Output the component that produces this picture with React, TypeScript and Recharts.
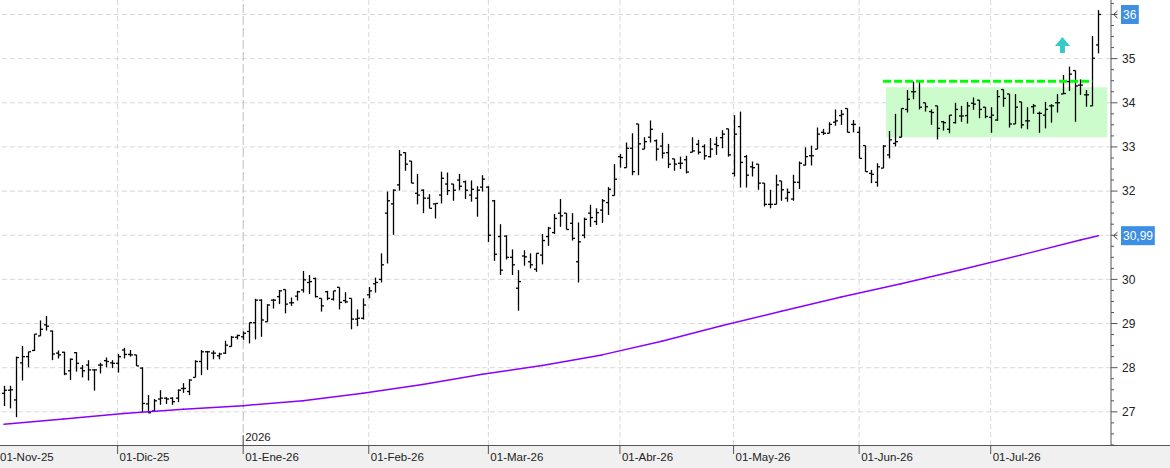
import React from "react";
import {
  ComposedChart,
  Bar,
  XAxis,
  YAxis,
  ReferenceLine,
  ReferenceArea,
  ReferenceDot,
} from "recharts";

// precios diarios (apertura, máximo, mínimo, cierre)
const opens = [
  27.42, 27.49, 27.27, 28.11, 28.25, 28.39, 28.72, 28.97, 28.83, 28.33,
  28.35, 27.93, 28.34, 27.99, 28.06, 27.95, 28.06, 28.16, 28.11, 28.1,
  28.4, 28.3, 28.29, 27.99, 27.18, 27.02, 27.29, 27.31, 27.31, 27.31,
  27.53, 27.46, 27.78, 28.14, 28.36, 28.33, 28.27, 28.33, 28.48, 28.69,
  28.7, 28.82, 29.02, 29.53, 29.04, 29.53, 29.61, 29.77, 29.47, 29.62,
  29.76, 29.93, 30.02, 29.57, 29.72, 29.55, 29.82, 29.52, 29.57, 29.1,
  29.12, 29.65, 29.9, 30.0, 31.5, 31.71, 32.14, 32.87, 32.68, 31.95,
  32.02, 31.84, 31.71, 31.91, 32.16, 32.16, 32.25, 32.21, 31.91, 31.84,
  32.09, 32.09, 31.78, 30.97, 30.98, 30.5, 29.8, 30.53, 30.4, 30.23,
  30.55, 30.97, 31.06, 31.5, 31.5, 31.27, 30.4, 31.0, 31.5, 31.31,
  31.57, 31.74, 31.9, 32.78, 32.53, 32.97, 33.52, 32.95, 33.22, 33.14,
  33.02, 32.87, 32.73, 32.63, 32.71, 32.88, 33.06, 33.01, 32.78, 33.06,
  33.21, 33.41, 32.4, 33.46, 32.78, 32.55, 32.61, 32.18, 31.7, 31.7,
  32.23, 31.84, 31.82, 32.2, 32.59, 32.8, 32.95, 33.33, 33.31, 33.56,
  33.71, 33.87, 33.51, 33.33, 33.03, 32.4, 32.2, 32.52, 32.82, 33.08,
  33.22, 33.85, 34.25, 34.5, 34.0, 33.8, 33.93, 33.57, 33.4, 33.55,
  33.7, 33.71, 33.99, 34.06, 33.9, 33.67, 33.61, 34.3, 34.2, 33.52,
  34.02, 33.59, 33.91, 33.76, 33.72, 33.93, 34.0, 34.2, 34.48, 34.73,
  34.4, 34.18, 33.93, 35.31,
];
const highs = [
  27.59, 27.59, 28.25, 28.49, 28.36, 28.76, 29.07, 29.17, 28.84, 28.39,
  28.36, 28.21, 28.35, 28.06, 28.17, 27.96, 28.11, 28.23, 28.17, 28.31,
  28.45, 28.4, 28.29, 28.01, 27.38, 27.29, 27.49, 27.33, 27.33, 27.51,
  27.65, 27.74, 28.17, 28.4, 28.38, 28.39, 28.34, 28.61, 28.72, 28.75,
  28.82, 29.02, 29.56, 29.55, 29.44, 29.56, 29.76, 29.77, 29.59, 29.74,
  30.19, 30.1, 30.04, 29.57, 29.74, 29.74, 29.82, 29.71, 29.57, 29.32,
  29.57, 29.83, 30.04, 30.59, 31.99, 32.04, 32.93, 32.88, 32.68, 32.39,
  32.04, 31.93, 31.72, 32.44, 32.42, 32.16, 32.39, 32.24, 32.24, 32.11,
  32.36, 32.11, 31.8, 31.25, 31.0, 30.68, 30.21, 30.66, 30.59, 30.59,
  31.03, 31.19, 31.48, 31.82, 31.5, 31.5, 31.29, 31.4, 31.69, 31.61,
  31.82, 32.09, 32.61, 32.84, 33.1, 33.31, 33.52, 33.22, 33.6, 33.17,
  33.32, 33.07, 32.73, 32.78, 32.8, 33.22, 33.16, 33.06, 33.2, 33.23,
  33.38, 33.41, 33.72, 33.8, 32.82, 32.67, 32.61, 32.18, 32.03, 32.37,
  32.23, 32.06, 32.37, 32.67, 32.99, 33.03, 33.44, 33.41, 33.56, 33.85,
  33.84, 33.87, 33.61, 33.46, 33.03, 32.48, 32.63, 33.04, 33.36, 33.75,
  33.87, 34.29, 34.48, 34.5, 34.0, 33.85, 33.93, 33.59, 33.72, 34.0,
  33.93, 34.02, 34.12, 34.06, 33.9, 33.9, 34.29, 34.3, 34.2, 34.2,
  34.02, 33.9, 33.97, 33.8, 34.02, 33.97, 34.2, 34.63, 34.82, 34.73,
  34.53, 34.29, 35.51, 36.1,
];
const lows = [
  27.13, 27.08, 26.88, 27.71, 28.01, 28.38, 28.72, 28.84, 28.17, 28.21,
  27.83, 27.72, 27.91, 27.78, 27.71, 27.48, 27.87, 28.01, 27.99, 27.89,
  28.21, 28.25, 28.04, 26.99, 26.97, 27.0, 27.16, 27.18, 27.16, 27.22,
  27.43, 27.38, 27.78, 27.83, 27.95, 28.19, 28.19, 28.31, 28.48, 28.64,
  28.63, 28.55, 28.64, 28.7, 29.04, 29.34, 29.44, 29.23, 29.4, 29.52,
  29.7, 29.67, 29.59, 29.27, 29.53, 29.52, 29.32, 29.46, 28.87, 28.94,
  29.09, 29.57, 29.7, 29.93, 30.36, 31.01, 32.01, 32.46, 32.18, 31.7,
  31.5, 31.61, 31.38, 31.72, 31.91, 31.78, 32.02, 31.82, 31.76, 31.42,
  31.99, 30.85, 30.42, 30.1, 30.45, 30.1, 29.29, 30.31, 30.25, 30.17,
  30.34, 30.76, 31.03, 31.19, 31.13, 30.88, 29.93, 30.93, 31.19, 31.23,
  31.28, 31.46, 31.9, 32.53, 32.53, 32.36, 32.36, 32.95, 33.1, 32.69,
  32.74, 32.52, 32.46, 32.5, 32.4, 32.88, 32.83, 32.71, 32.76, 32.82,
  32.97, 32.78, 32.33, 32.08, 32.08, 32.33, 32.03, 31.65, 31.61, 31.7,
  31.78, 31.76, 31.78, 32.05, 32.58, 32.58, 32.95, 33.27, 33.31, 33.48,
  33.5, 33.33, 33.33, 32.74, 32.44, 32.18, 32.1, 32.52, 32.74, 33.01,
  33.22, 33.78, 34.08, 33.85, 33.8, 33.5, 33.17, 33.37, 33.31, 33.53,
  33.57, 33.53, 33.84, 33.65, 33.65, 33.32, 33.59, 33.91, 33.44, 33.52,
  33.42, 33.4, 33.75, 33.32, 33.42, 33.55, 33.78, 34.2, 34.27, 33.57,
  34.18, 33.91, 33.93, 35.12,
];
const closes = [
  27.49, 27.5, 28.23, 28.25, 28.36, 28.76, 28.87, 28.94, 28.31, 28.29,
  27.86, 28.19, 28.1, 27.93, 27.95, 27.95, 28.06, 28.14, 28.1, 28.25,
  28.3, 28.29, 28.04, 27.19, 26.98, 27.25, 27.31, 27.29, 27.23, 27.49,
  27.53, 27.72, 28.14, 28.36, 28.36, 28.33, 28.31, 28.51, 28.69, 28.73,
  28.78, 29.02, 29.53, 29.08, 29.42, 29.53, 29.74, 29.44, 29.47, 29.72,
  29.99, 29.95, 29.61, 29.4, 29.57, 29.74, 29.48, 29.49, 29.1, 29.12,
  29.42, 29.74, 29.93, 30.33, 31.78, 32.02, 32.82, 32.61, 32.18, 31.91,
  31.84, 31.61, 31.72, 32.29, 32.01, 32.02, 32.11, 32.02, 32.04, 32.02,
  32.27, 31.0, 30.57, 30.21, 30.5, 30.33, 29.95, 30.51, 30.33, 30.59,
  30.88, 31.16, 31.38, 31.44, 31.13, 30.93, 30.85, 31.36, 31.4, 31.51,
  31.78, 32.04, 32.27, 32.76, 32.97, 32.44, 33.07, 33.12, 33.4, 32.95,
  32.86, 32.61, 32.61, 32.63, 32.43, 32.91, 32.88, 32.8, 32.95, 33.03,
  33.29, 32.82, 33.29, 32.65, 32.36, 32.53, 32.18, 31.7, 31.7, 32.14,
  32.03, 31.97, 32.2, 32.63, 32.78, 32.8, 33.29, 33.31, 33.51, 33.59,
  33.74, 33.33, 33.51, 32.74, 32.44, 32.38, 32.55, 33.02, 33.16, 33.12,
  33.87, 34.08, 34.25, 33.9, 33.91, 33.78, 33.42, 33.55, 33.72, 33.85,
  33.7, 33.93, 33.97, 33.85, 33.69, 33.72, 34.14, 34.1, 33.52, 33.9,
  33.5, 33.59, 33.93, 33.76, 33.85, 33.93, 34.0, 34.21, 34.65, 34.38,
  34.4, 34.18, 35.01, 36.0,
];

// media móvil: [sesión, valor]
const maPoints = [
  [1, 26.72], [11, 26.84], [21, 26.96], [31, 27.06], [41, 27.14],
  [51, 27.25], [61, 27.42], [71, 27.62], [81, 27.85], [91, 28.05],
  [101, 28.29], [111, 28.6], [121, 28.95], [131, 29.28], [141, 29.6],
  [151, 29.9], [161, 30.22], [171, 30.55], [181, 30.89], [184, 30.99],
];

const monthBars = [1, 20, 41, 62, 82, 104, 123, 144, 166];
const monthLabels = [
  "01-Nov-25", "01-Dic-25", "01-Ene-26", "01-Feb-26", "01-Mar-26",
  "01-Abr-26", "01-May-26", "01-Jun-26", "01-Jul-26",
];
const yearBar = 41;
const yearLabel = "2026";

const priceLevels = [27, 28, 29, 30, 31, 32, 33, 34, 35, 36];
const priceMarkers = [
  { value: 36, text: "36" },
  { value: 30.99, text: "30,99" },
];

// zona lateral + resistencia + flecha
const rangeBox = { from: 149, to: 185, low: 33.22, high: 34.35 };
const resistance = { from: 148, to: 183, value: 34.49 };
const arrowAt = { bar: 178, value: 35.31 };

const lastSlot = 185; // hueco a la derecha de la última vela

const data = [];
for (let k = 1; k <= lastSlot; k++) {
  const j = k - 1;
  const has = j < opens.length;
  data.push({
    i: k,
    o: has ? opens[j] : null,
    h: has ? highs[j] : null,
    l: has ? lows[j] : null,
    c: has ? closes[j] : null,
    hl: has ? [lows[j], highs[j]] : null,
  });
}

const Y_MIN = 26.249;
const Y_MAX = 36.328;
const yTicks: number[] = [];
for (let t = 26.25; t <= 36.26; t += 0.25) yTicks.push(Math.round(t * 100) / 100);
priceMarkers.forEach((m) => {
  if (!yTicks.includes(m.value)) yTicks.push(m.value);
});

const FONT = "'Liberation Sans', Arial, sans-serif";

const OhlcShape = (props: any) => {
  const { x, y, width, height, payload } = props;
  if (!payload || payload.h == null) return null;
  const top = Math.min(y, y + height);
  const bot = Math.max(y, y + height);
  const { o, h, l, c } = payload;
  const toY = (v: number) => (h === l ? top : top + ((h - v) / (h - l)) * (bot - top));
  const cx = Math.round(x + width / 2) + 0.5;
  return (
    <g stroke="#000" strokeWidth={1.3}>
      <line x1={cx} x2={cx} y1={top} y2={bot} />
      <line x1={cx - 2.5} x2={cx} y1={toY(o)} y2={toY(o)} />
      <line x1={cx} x2={cx + 2.5} y1={toY(c)} y2={toY(c)} />
    </g>
  );
};

const YTick = (props: any) => {
  const { x, y, payload } = props;
  const v = payload.value;
  const major = Math.abs(v - Math.round(v)) < 1e-6;
  const marker = priceMarkers.find((m) => Math.abs(m.value - v) < 1e-6);
  const covered = priceMarkers.some((m) => Math.abs(m.value - v) < 0.2);
  const isMinor = !major && !marker;
  return (
    <g>
      {(major || isMinor) && (
        <line x1={x} x2={x + (major ? 6.5 : 3)} y1={y} y2={y} stroke="#555" />
      )}
      {major && !covered && (
        <text x={x + 11} y={y + 4.3} fontSize={12} fontFamily={FONT} fill="#222">
          {v}
        </text>
      )}
      {marker && (
        <g>
          <polyline
            points={`${x + 6.5},${y - 3.5} ${x + 2.5},${y} ${x + 6.5},${y + 3.5}`}
            fill="none"
            stroke="#444"
          />
          <rect
            x={x + 10}
            y={y - 9.5}
            width={marker.text.length * 6.4 + 5 - (marker.text.includes(",") ? 3.2 : 0)}
            height={19}
            fill="#3d8fe3"
          />
          <text x={x + 12} y={y + 4.3} fontSize={12} fontFamily={FONT} fill="#fff">
            {marker.text}
          </text>
        </g>
      )}
    </g>
  );
};

const XTick = (props: any) => {
  const { x, y, payload } = props;
  const k = monthBars.indexOf(payload.value);
  if (k < 0) return null;
  const isYear = payload.value === yearBar;
  const tx = k === 0 ? 0 : x + 2;
  return (
    <g>
      {k > 0 && (
        <line x1={x} x2={x} y1={isYear ? y - 10 : y} y2={y + 9} stroke="#555" />
      )}
      {isYear && (
        <text x={x + 2} y={y - 4} fontSize={11.5} fontFamily={FONT} fill="#222">
          {yearLabel}
        </text>
      )}
      <text x={tx} y={y + 16} fontSize={11.5} fontFamily={FONT} fill="#222">
        {monthLabels[k]}
      </text>
    </g>
  );
};

const ArrowShape = (props: any) => {
  const { cx, cy } = props;
  const pts = [
    [cx, cy - 8],
    [cx + 7.5, cy + 1],
    [cx + 2.5, cy + 1],
    [cx + 2.5, cy + 8],
    [cx - 2.5, cy + 8],
    [cx - 2.5, cy + 1],
    [cx - 7.5, cy + 1],
  ]
    .map((p) => p.join(","))
    .join(" ");
  return <polygon points={pts} fill="#36c9c9" />;
};

export default function App() {
  return (
    <div style={{ position: "absolute", left: 0, top: 0, width: 1170, height: 468, background: "#fff" }}>
      <div
        style={{
          position: "absolute",
          left: 0,
          top: 445,
          width: 1170,
          height: 22,
          background: "#f0f0f0",
          borderTop: "1px solid #555",
        }}
      />
      <div style={{ position: "absolute", left: 0, top: 0 }}>
        <ComposedChart
          width={1170}
          height={468}
          data={data}
          margin={{ top: 0, right: 0, bottom: 0, left: 0 }}
        >
          <XAxis
            dataKey="i"
            type="category"
            height={23}
            axisLine={false}
            tickLine={false}
            tickSize={0}
            tickMargin={0}
            ticks={monthBars}
            interval={0}
            padding={{ left: 1, right: 3.7 }}
            tick={<XTick />}
          />
          <YAxis
            orientation="right"
            width={59}
            type="number"
            domain={[Y_MIN, Y_MAX]}
            allowDataOverflow
            ticks={yTicks}
            interval={0}
            tickLine={false}
            tickSize={0}
            tickMargin={0}
            axisLine={{ stroke: "#555" }}
            tick={<YTick />}
          />
          {priceLevels.map((p) => (
            <ReferenceLine key={`h${p}`} y={p} stroke="#d9d9d9" strokeDasharray="5 3" zIndex={-100} />
          ))}
          {monthBars.slice(1).map((b) => (
            <ReferenceLine
              key={`v${b}`}
              x={b}
              stroke={b === yearBar ? "#bdbdbd" : "#d9d9d9"}
              strokeDasharray={b === yearBar ? "9 3" : "5 3"}
              zIndex={-100}
            />
          ))}
          <ReferenceArea
            x1={rangeBox.from}
            x2={rangeBox.to}
            y1={rangeBox.low}
            y2={rangeBox.high}
            fill="#ccfccc"
            fillOpacity={1}
            stroke="none"
            zIndex={-50}
          />
          {/* media móvil: tramos entre los puntos leídos */}
          {maPoints.slice(1).map(([b, v], k) => (
            <ReferenceLine
              key={`ma${b}`}
              segment={[
                { x: maPoints[k][0], y: maPoints[k][1] },
                { x: b, y: v },
              ]}
              stroke="#8a00ff"
              strokeWidth={1.5}
              strokeLinecap="round"
            />
          ))}
          <Bar dataKey="hl" shape={<OhlcShape />} isAnimationActive={false} />
          <ReferenceLine
            segment={[
              { x: resistance.from, y: resistance.value },
              { x: resistance.to, y: resistance.value },
            ]}
            stroke="#00ff00"
            strokeWidth={3}
            strokeDasharray="8 3"
            zIndex={1000}
          />
          <ReferenceDot
            x={arrowAt.bar}
            y={arrowAt.value}
            shape={<ArrowShape />}
            zIndex={1000}
          />
        </ComposedChart>
      </div>
    </div>
  );
}
